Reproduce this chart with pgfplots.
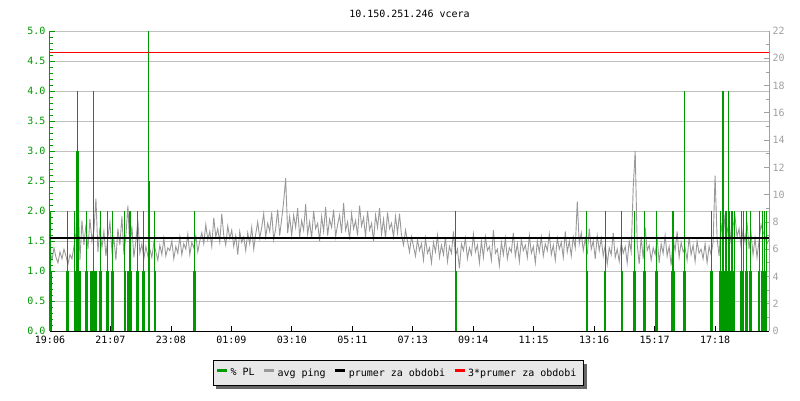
\documentclass[border=0pt]{standalone}
\usepackage{fontspec}
\setmonofont{DejaVu Sans Mono}
\usepackage{pgfplots}
\pgfplotsset{compat=1.18}
\usetikzlibrary{shadows}
\definecolor{plgreen}{HTML}{009900}
\definecolor{pinggray}{HTML}{999999}
\definecolor{axgray}{HTML}{A0A0A0}
\definecolor{gridgray}{HTML}{C0C0C0}
\definecolor{leggray}{HTML}{E8E8E8}
\definecolor{shadowgray}{HTML}{666666}
\newcommand\ff{\ttfamily\fontsize{10}{12}\selectfont}
\begin{document}
\begin{tikzpicture}
\path[use as bounding box] (-50pt,-69pt) rectangle (750pt,331pt);
% right axis: avg ping (ms) + grid
\begin{axis}[
  scale only axis, width=719pt, height=300pt,
  xmin=0, xmax=1440, ymin=0, ymax=22,
  axis x line=none, axis y line*=right,
  ytick={0,2,4,6,8,10,12,14,16,18,20,22}, minor y tick num=1,
  tick align=inside, major tick length=5pt, minor tick length=3pt,
  y axis line style={draw=axgray, line width=1pt},
  ytick style={draw=axgray, line width=0.8pt},
  yticklabel style={text=axgray, font=\ff, inner ysep=0pt},
  extra y ticks={2.2,4.4,6.6,8.8,11,13.2,15.4,17.6,19.8,22},
  extra y tick labels={},
  extra y tick style={grid=major, major tick length=0pt},
  grid style={draw=gridgray, line width=1pt},
  /pgf/number format/assume math mode=true,
]
\addplot[pinggray, line width=0.9pt] coordinates {
(0,5.9)(4,5.2)(8,6.1)(12,5.4)(16,5.0)(20,5.8)(24,5.3)(28,6.0)(32,5.5)(36,4.9)(40,5.6)(44,5.3)(48,6.2)
(52,7.2)(56,10.5)(60,5.2)(64,8.1)
(68,6.3)(72,7.8)(76,6.0)(80,8.2)(84,6.6)(88,7.4)(92,9.7)(96,5.8)(100,7.6)
(104,6.1)(108,7.3)(112,5.5)(116,6.9)(120,8.0)(124,5.9)(128,6.8)(132,5.2)(136,7.5)(140,6.3)(144,8.4)(148,5.6)(152,7.0)(156,9.2)(160,6.0)(164,7.7)(168,5.4)(172,6.6)(176,8.1)(180,5.7)(184,6.4)(188,5.3)
(192,6.2)(196,5.5)(200,6.0)(204,5.4)(208,6.5)(212,5.8)(216,5.2)(220,6.3)(224,5.6)(228,6.8)(232,5.5)(236,6.1)(240,5.9)(244,6.6)(248,5.3)(252,6.2)(256,5.7)(260,6.9)(264,5.6)(268,6.4)(272,6.0)(276,7.1)(280,5.6)(284,6.5)(288,6.1)(292,7.0)(296,5.8)(300,6.6)
(304,7.2)(308,6.4)(312,7.8)(316,6.7)(320,7.3)(324,6.2)(328,8.3)(332,6.9)(336,7.5)(340,6.5)(344,8.6)(348,7.0)(352,6.3)(356,7.7)(360,6.8)
(364,7.4)(368,6.2)(372,7.0)(376,5.6)(380,7.3)(384,6.5)(388,6.9)(392,5.9)(396,7.2)(400,6.4)(404,7.6)(408,6.0)
(412,7.1)(416,8.0)(420,6.8)(424,7.6)(428,8.6)(432,6.9)(436,7.9)(440,7.3)(444,8.7)(448,6.7)(452,7.5)(456,8.9)(460,7.0)(464,8.2)(468,9.5)(472,11.2)(476,7.2)(480,8.4)
(484,7.0)(488,8.5)(492,7.6)(496,9.0)(500,6.9)(504,8.1)(508,7.4)(512,9.3)(516,7.1)(520,8.0)(524,6.8)(528,8.8)(532,7.5)(536,7.9)(540,6.6)(544,8.4)(548,7.3)(552,9.1)(556,7.0)(560,8.2)(564,7.6)(568,8.9)(572,6.9)(576,7.8)(580,8.5)(584,7.2)(588,9.4)(592,7.4)(596,8.0)(600,6.7)(604,8.6)(608,7.5)(612,8.1)(616,7.0)(620,9.2)(624,7.7)(628,8.3)(632,6.9)(636,8.8)(640,7.4)(644,7.9)(648,6.6)(652,8.5)(656,7.6)(660,9.0)(664,7.1)(668,8.2)(672,6.8)(676,8.7)(680,7.5)(684,7.9)(688,6.9)(692,8.4)(696,7.2)(700,8.6)
(704,7.0)(708,6.3)(712,7.4)(716,6.6)(720,5.8)(724,6.9)(728,6.2)
(732,5.5)(736,6.7)(740,5.9)(744,6.4)(748,5.2)(752,6.8)(756,5.7)(760,6.1)(764,5.0)(768,6.5)(772,5.8)(776,7.0)(780,5.4)(784,6.3)(788,5.6)(792,6.9)(796,5.1)(800,6.2)(804,5.7)(808,7.3)(812,5.5)(816,6.0)(820,4.6)(824,6.4)(828,5.9)(832,6.8)(836,5.3)(840,6.1)(844,5.6)(848,7.1)(852,5.8)(856,6.3)(860,5.0)(864,6.6)(868,5.4)(872,6.9)(876,5.9)(880,6.2)(884,5.2)(888,7.4)(892,5.7)(896,6.0)(900,4.8)(904,6.5)(908,5.6)(912,6.8)(916,5.3)(920,6.1)(924,5.8)(928,7.2)(932,5.5)(936,6.4)(940,5.1)(944,6.7)(948,5.9)(952,6.3)(956,5.4)(960,7.0)(964,5.7)(968,6.2)(972,5.0)(976,6.6)(980,5.8)(984,6.9)(988,5.5)(992,6.4)(996,5.9)(1000,7.1)(1004,5.6)(1008,6.3)(1012,5.2)(1016,6.8)(1020,6.0)(1024,6.5)(1028,5.4)(1032,7.3)(1036,5.8)(1040,6.6)(1044,5.5)(1048,6.9)(1052,6.1)(1056,9.5)(1060,6.4)(1064,7.2)(1068,5.9)(1072,6.8)(1076,5.6)(1080,7.5)(1084,6.0)(1088,6.6)(1092,5.3)(1096,7.0)(1100,5.9)
(1104,6.8)(1108,5.5)(1112,6.3)(1116,4.9)(1120,6.1)(1124,5.6)(1128,7.2)(1132,5.4)(1136,6.0)(1140,5.1)(1144,6.5)(1148,5.7)(1152,6.2)(1156,5.0)(1160,6.6)(1164,5.8)(1168,10.5)(1172,13.2)(1176,6.4)(1180,4.9)(1184,6.9)(1188,5.3)(1192,7.6)(1196,5.9)(1200,6.3)(1204,5.2)(1208,6.1)(1212,5.6)(1216,6.8)(1220,5.0)(1224,6.4)(1228,5.7)(1232,7.0)(1236,5.5)(1240,6.2)(1244,4.8)(1248,6.7)(1252,5.9)(1256,7.3)(1260,5.4)(1264,6.5)(1268,5.8)(1272,6.1)(1276,5.2)(1280,6.9)(1284,5.6)(1288,6.3)(1292,5.1)(1296,6.6)(1300,5.7)
(1304,6.0)(1308,5.3)(1312,6.4)(1316,5.0)(1320,6.2)(1324,5.6)(1328,6.5)(1332,11.4)(1336,6.8)(1340,5.5)
(1344,7.9)(1348,6.6)(1352,8.6)(1356,7.2)(1360,8.1)(1364,6.4)(1368,7.7)(1372,8.4)(1376,6.9)(1380,7.5)
(1384,6.2)(1388,7.4)(1392,6.5)(1396,8.0)(1400,6.0)(1404,7.2)(1408,5.6)(1412,6.8)(1416,5.4)(1420,6.6)(1424,7.8)(1428,7.3)(1432,6.9)(1436,6.4)(1440,6.7)
};
\end{axis}
% left axis: packet loss (%)
\begin{axis}[
  scale only axis, width=719pt, height=300pt,
  xmin=0, xmax=1440, ymin=0, ymax=5,
  axis x line*=bottom, axis y line*=left,
  ytick={0,0.5,1,1.5,2,2.5,3,3.5,4,4.5,5}, minor y tick num=4,
  xtick={0,121.09,242.18,363.27,484.36,605.45,726.55,847.64,968.73,1089.82,1210.91,1332},
  xticklabels={19:06,21:07,23:08,01:09,03:10,05:11,07:13,09:14,11:15,13:16,15:17,17:18},
  tick align=inside, major tick length=5pt, minor tick length=3pt,
  y axis line style={draw=plgreen, line width=1pt},
  ytick style={draw=plgreen, line width=0.8pt},
  yticklabel style={text=plgreen, font=\ff, inner ysep=0pt, xshift=-1pt, /pgf/number format/.cd, fixed, fixed zerofill, precision=1},
  x axis line style={draw=black, line width=1pt},
  xtick style={draw=black, line width=0.8pt},
  xticklabel style={font=\ff, text=black, inner ysep=0pt, yshift=-5pt},
  /pgf/number format/assume math mode=true,
  title={10.150.251.246 vcera},
  title style={font=\ff, at={(0.5,1)}, anchor=base, yshift=8pt},
  legend columns=4,
  legend image code/.code={\begin{scope}[#1]\pgfpathrectangle{\pgfpoint{0pt}{1.5pt}}{\pgfpoint{10pt}{3pt}}\pgfusepath{fill}\end{scope}},
  legend style={at={(0.4847,-0.0967)}, anchor=north, fill=leggray, draw=black, line width=1pt,
    font=\ff, inner xsep=4pt, inner ysep=6pt,
    /tikz/every even column/.append style={column sep=6pt},
    nodes={inner xsep=3.5pt},
    drop shadow={shadow xshift=3pt, shadow yshift=-3pt, fill=shadowgray, opacity=1}},
]
\addplot[ycomb, plgreen, line width=2.4pt, forget plot] coordinates {
(2,1)(35,1)(51,1)(53,1)(57,1)(59,1)(73,1)(83,1)(86,1)(88,1)(92,1)(101,1)(115,1)(125,1)(150,1)
(157,1)(160,1)(162,1)(175,1)(187,1)(210,1)(289,1)(813,1)(1075,1)(1112,1)(1145,1)(1171,1)(1191,1)
(1215,1)(1246,1)(1249,1)(1271,1)(1325,1)
(1343,1)(1345,1)(1347,1)(1349,1)(1351,1)(1353,1)(1355,1)(1357,1)(1359,1)(1361,1)(1363,1)(1365,1)(1367,1)(1369,1)
(1384,1)(1388,1)(1395,1)(1403,1)(1420,1)(1426,1)(1431,1)(1434,1)
(55,3)(198,2.5)
};
\addplot[ycomb, plgreen, line width=1pt, forget plot] coordinates {
(2,2)(35,2)(50,2)(55,4)(73,2)(87,4)(101,2)(115,2)(125,2)(150,2)(160,2)(162,2)(175,2)(187,2)(198,5)
(210,2)(289,2)(813,2)(1075,2)(1112,2)(1145,2)(1171,2)(1191,2)(1215,2)(1246,2)(1249,2)(1271,4)(1325,2)
(1343,2)(1347,4)(1349,4)(1352,2)(1355,2)(1359,4)(1361,2)(1364,2)(1367,2)(1370,2)
(1384,2)(1388,2)(1395,2)(1403,2)(1420,2)(1426,2)(1431,2)(1434,2)
};
\addplot[black, line width=2pt, forget plot] coordinates {(0,1.548)(1440,1.548)};
\addplot[red, line width=1.2pt, forget plot] coordinates {(0,4.645)(1440,4.645)};
\addlegendimage{plgreen}
\addlegendentry{\% PL}
\addlegendimage{pinggray}
\addlegendentry{avg ping}
\addlegendimage{black}
\addlegendentry{prumer za obdobi}
\addlegendimage{red}
\addlegendentry{3*prumer za obdobi}
\end{axis}
\end{tikzpicture}
\end{document}
